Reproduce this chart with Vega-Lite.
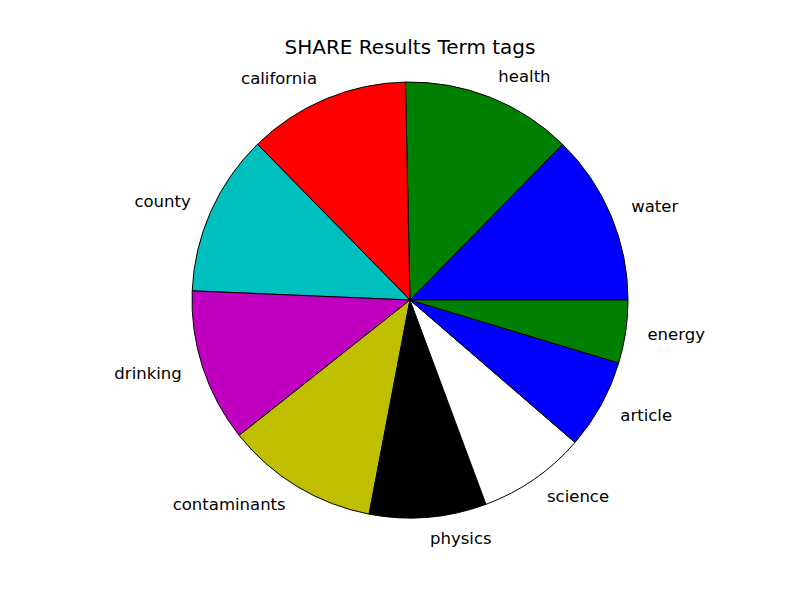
{
  "$schema": "https://vega.github.io/schema/vega-lite/v6.json",
  "width": 620,
  "height": 480,
  "autosize": "none",
  "padding": {"left": 100, "top": 60, "right": 80, "bottom": 60},
  "background": "white",
  "config": {"view": {"stroke": null}, "font": "DejaVu Sans"},
  "title": {"text": "SHARE Results Term tags", "fontSize": 20, "fontWeight": "normal", "font": "DejaVu Sans", "color": "black", "anchor": "middle", "baseline": "alphabetic", "offset": -14},
  "data": {"values": [
    {"tag": "water", "count": 19, "idx": 1},
    {"tag": "health", "count": 19, "idx": 2},
    {"tag": "california", "count": 18, "idx": 3},
    {"tag": "county", "count": 18, "idx": 4},
    {"tag": "drinking", "count": 17, "idx": 5},
    {"tag": "contaminants", "count": 17, "idx": 6},
    {"tag": "physics", "count": 13, "idx": 7},
    {"tag": "science", "count": 12, "idx": 8},
    {"tag": "article", "count": 10, "idx": 9},
    {"tag": "energy", "count": 7, "idx": 10}
  ]},
  "encoding": {
    "theta": {"field": "count", "type": "quantitative", "stack": true, "scale": {"range": [1.5707963, -4.712389]}},
    "order": {"field": "idx", "type": "quantitative", "sort": "ascending"}
  },
  "layer": [
    {
      "mark": {"type": "arc", "radius": 218, "stroke": "black", "strokeWidth": 1},
      "encoding": {
        "color": {"field": "tag", "type": "nominal", "legend": null,
          "scale": {"domain": ["water", "health", "california", "county", "drinking", "contaminants", "physics", "science", "article", "energy"],
                    "range": ["#0000ff", "#008000", "#ff0000", "#00bfbf", "#bf00bf", "#bfbf00", "#000000", "#ffffff", "#0000ff", "#008000"]}}
      }
    },
    {
      "mark": {"type": "text", "radius": 240, "align": "left", "baseline": "middle", "fontSize": 16.5, "font": "DejaVu Sans", "color": "black"},
      "encoding": {
        "text": {"condition": {"test": "indexof(['water','health','physics','science','article','energy'], datum.tag) >= 0", "field": "tag"}, "value": ""}
      }
    },
    {
      "mark": {"type": "text", "radius": 240, "align": "right", "baseline": "middle", "fontSize": 16.5, "font": "DejaVu Sans", "color": "black"},
      "encoding": {
        "text": {"condition": {"test": "indexof(['california','county','drinking','contaminants'], datum.tag) >= 0", "field": "tag"}, "value": ""}
      }
    }
  ]
}
